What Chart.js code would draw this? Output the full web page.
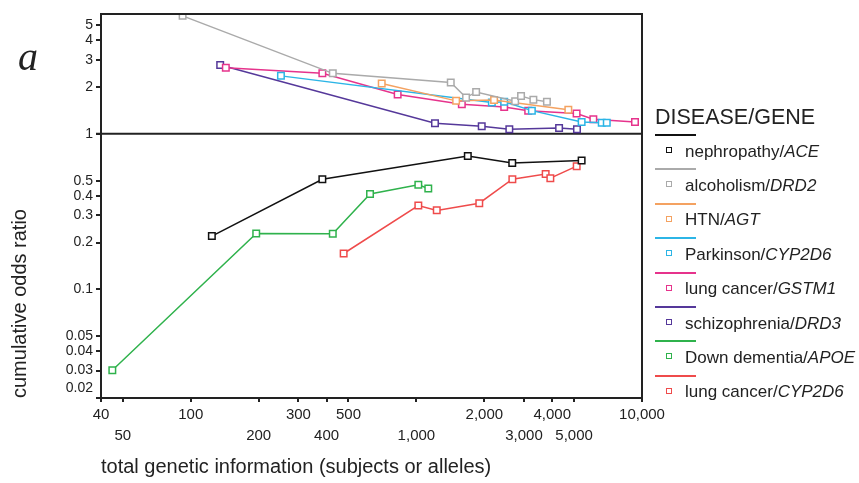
<!DOCTYPE html>
<html>
<head>
<meta charset="utf-8">
<script src="https://cdn.jsdelivr.net/npm/chart.js@4"></script>
<style>
  body { margin: 0; background: #fff; }
  #wrap { position: relative; width: 859px; height: 483px; font-family: "Liberation Sans", Arial, sans-serif; color: #222; }
  #panel { position: absolute; left: 18px; top: 33px; font: italic 40px "Liberation Serif", serif; color: #222; }
  #legend { position: absolute; left: 655px; top: 0; }
  #legend .title { position: absolute; left: 0; top: 105px; font-size: 21.5px; white-space: nowrap; }
  #legend .line { position: absolute; left: 0; width: 41px; height: 2px; }
  #legend .box { position: absolute; left: 11px; width: 4px; height: 4px; border: 1.5px solid; background: #fff; }
  #legend .lab { position: absolute; left: 30px; font-size: 17px; white-space: nowrap; line-height: 19px; }
</style>
</head>
<body>
<div id="wrap">
  <canvas id="chart" width="859" height="483"></canvas>
  <div id="panel">a</div>
  <div id="legend"></div>
</div>
<script>
// series names and colours
const diseases = ['nephropathy', 'alcoholism', 'HTN', 'Parkinson', 'lung cancer', 'schizophrenia', 'Down dementia', 'lung cancer'];
const genes = ['ACE', 'DRD2', 'AGT', 'CYP2D6', 'GSTM1', 'DRD3', 'APOE', 'CYP2D6'];
const colors = ['#111111', '#aaaaaa', '#f4a261', '#2cb5e6', '#e6338c', '#55389a', '#2fb24c', '#ef4b4b'];

// total genetic information (x) and cumulative odds ratio (y), one pair per series
const aceX = [124, 383, 1690, 2660, 5400];
const aceY = [0.22, 0.51, 0.72, 0.65, 0.675];
const drd2X = [92, 426, 1420, 1660, 1840, 2740, 2910, 3300, 3790];
const drd2Y = [5.74, 2.45, 2.14, 1.71, 1.86, 1.62, 1.75, 1.66, 1.61];
const agtX = [702, 1500, 2210, 4715];
const agtY = [2.11, 1.63, 1.65, 1.43];
const cypPdX = [251, 2160, 2450, 3250, 5400, 6630, 6980];
const cypPdY = [2.36, 1.59, 1.61, 1.41, 1.19, 1.18, 1.18];
const gstm1X = [143, 383, 826, 1590, 2450, 3130, 5130, 6085, 9310];
const gstm1Y = [2.66, 2.45, 1.79, 1.55, 1.49, 1.41, 1.35, 1.24, 1.19];
const drd3X = [135, 1209, 1948, 2582, 4290, 5150];
const drd3Y = [2.77, 1.17, 1.12, 1.07, 1.09, 1.07];
const apoeX = [44.9, 195, 426, 623, 1020, 1129];
const apoeY = [0.0302, 0.229, 0.228, 0.41, 0.47, 0.445];
const cypLcX = [476, 1020, 1231, 1900, 2663, 3741, 3924, 5135];
const cypLcY = [0.17, 0.346, 0.322, 0.358, 0.511, 0.551, 0.519, 0.62];

const seriesX = [aceX, drd2X, agtX, cypPdX, gstm1X, drd3X, apoeX, cypLcX];
const seriesY = [aceY, drd2Y, agtY, cypPdY, gstm1Y, drd3Y, apoeY, cypLcY];

// tick labels
const xTicks = [40, 50, 100, 200, 300, 400, 500, 1000, 2000, 3000, 4000, 5000, 10000];
const xTopRow = [40, 100, 300, 500, 2000, 4000, 10000];
const yTicks = [0.02, 0.03, 0.04, 0.05, 0.1, 0.2, 0.3, 0.4, 0.5, 1, 2, 3, 4, 5];

const datasets = seriesX.map((xs, i) => ({
  label: diseases[i] + '/' + genes[i],
  data: xs.map((x, j) => ({ x: x, y: seriesY[i][j] })),
  borderColor: colors[i],
  backgroundColor: '#fff',
  pointBorderColor: colors[i],
  pointBackgroundColor: '#fff',
  pointStyle: 'rect',
  pointRadius: 4.6,
  pointBorderWidth: 1.5,
  borderWidth: 1.5,
  tension: 0
}));

const framePlugin = {
  id: 'frame',
  beforeDatasetsDraw(chart) {
    const { ctx, chartArea: a, scales } = chart;
    const y1 = scales.y.getPixelForValue(1);
    ctx.save();
    ctx.strokeStyle = '#222';
    ctx.lineWidth = 2;
    ctx.beginPath();
    ctx.moveTo(a.left - 5, y1);
    ctx.lineTo(a.right, y1);
    ctx.stroke();
    ctx.restore();
  },
  afterDraw(chart) {
    const { ctx, chartArea: a } = chart;
    ctx.save();
    ctx.strokeStyle = '#222';
    ctx.lineWidth = 2;
    ctx.strokeRect(a.left, a.top, a.right - a.left, a.bottom - a.top);
    // lowest y label sits a little above its tick
    ctx.fillStyle = '#222';
    ctx.font = '14px "Liberation Sans", Arial, sans-serif';
    ctx.textAlign = 'right';
    ctx.textBaseline = 'middle';
    ctx.fillText('0.02', a.left - 8, a.bottom - 10);
    ctx.restore();
  }
};

new Chart(document.getElementById('chart'), {
  type: 'line',
  data: { datasets: datasets },
  plugins: [framePlugin],
  options: {
    responsive: false,
    animation: false,
    layout: { padding: { top: 14, right: 217, left: 0, bottom: 0 } },
    plugins: { legend: { display: false }, tooltip: { enabled: false } },
    scales: {
      x: {
        type: 'logarithmic',
        min: 40,
        max: 10000,
        afterBuildTicks(scale) { scale.ticks = xTicks.map(v => ({ value: v })); },
        afterFit(scale) { scale.height = 85; scale.paddingLeft = 0; scale.paddingRight = 0; },
        grid: { drawOnChartArea: false, drawTicks: true, tickLength: 4, color: '#222', lineWidth: 2 },
        border: { display: false },
        ticks: {
          autoSkip: false,
          maxRotation: 0,
          minRotation: 0,
          padding: 3,
          color: '#222',
          font: { family: '"Liberation Sans", Arial, sans-serif', size: 15, lineHeight: 1.35 },
          callback(value) {
            const s = value >= 1000 ? value.toLocaleString('en-US') : String(value);
            return xTopRow.includes(value) ? [s, ''] : ['', s];
          }
        },
        title: {
          display: true,
          align: 'start',
          text: 'total genetic information (subjects or alleles)',
          color: '#222',
          padding: { top: 0, bottom: 4 },
          font: { family: '"Liberation Sans", Arial, sans-serif', size: 20 }
        }
      },
      y: {
        type: 'logarithmic',
        min: 0.02,
        max: 5.9,
        afterBuildTicks(scale) { scale.ticks = yTicks.map(v => ({ value: v })); },
        afterFit(scale) { scale.width = 101; scale.paddingTop = 0; scale.paddingBottom = 0; },
        grid: { drawOnChartArea: false, drawTicks: true, tickLength: 5, color: '#222', lineWidth: 2 },
        border: { display: false },
        ticks: {
          autoSkip: false,
          padding: 3,
          color: '#222',
          font: { family: '"Liberation Sans", Arial, sans-serif', size: 14 },
          callback(value) { return value === 0.02 ? '' : String(value); }
        },
        title: {
          display: true,
          align: 'start',
          text: 'cumulative odds ratio',
          color: '#222',
          padding: { top: 8, bottom: 0 },
          font: { family: '"Liberation Sans", Arial, sans-serif', size: 20 }
        }
      }
    }
  }
});

// legend built from the same series arrays
const legend = document.getElementById('legend');
legend.innerHTML = '<div class="title">DISEASE/GENE</div>' + diseases.map((d, i) => {
  const top = 134 + i * 34.4;
  return '<div class="line" style="top:' + top + 'px;background:' + colors[i] + '"></div>' +
    '<div class="box" style="top:' + (top + 13) + 'px;border-color:' + colors[i] + '"></div>' +
    '<div class="lab" style="top:' + (top + 7.5) + 'px">' + d + '/<i>' + genes[i] + '</i></div>';
}).join('');
</script>
</body>
</html>
